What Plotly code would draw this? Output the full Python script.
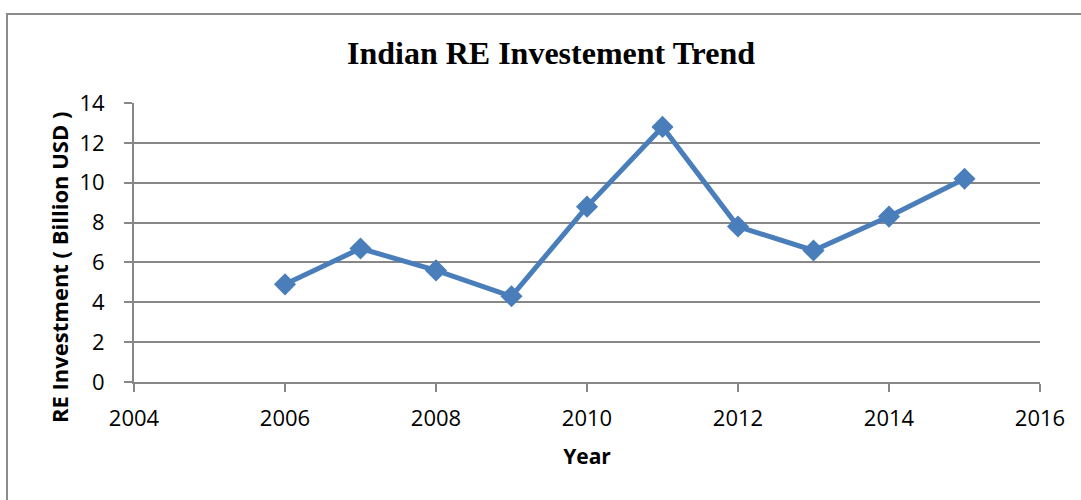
import plotly.graph_objects as go

years = [2006, 2007, 2008, 2009, 2010, 2011, 2012, 2013, 2014, 2015]
investment = [4.9, 6.7, 5.6, 4.3, 8.8, 12.8, 7.8, 6.6, 8.3, 10.2]
x_ticks = [2004, 2006, 2008, 2010, 2012, 2014, 2016]
y_ticks = [0, 2, 4, 6, 8, 10, 12, 14]

W, H = 1081, 500
L, R, T, B = 134, 41, 103, 118
PW, PH = W - L - R, H - T - B

fig = go.Figure()
fig.add_trace(go.Scatter(
    x=years, y=investment, mode="lines+markers",
    line=dict(color="#4A7EBB", width=5),
    marker=dict(symbol="diamond", size=17, color="#4A7EBB"),
    showlegend=False,
))

grid = "#878787"
tickfont = dict(family="Open Sans, Carlito, sans-serif", size=22, color="black")
fig.update_layout(
    width=W, height=H,
    margin=dict(l=L, r=R, t=T, b=B),
    paper_bgcolor="white", plot_bgcolor="white",
    title=dict(text="<b>Indian RE Investement Trend</b>",
               font=dict(family="Liberation Serif, Times New Roman, serif", size=32, color="black"),
               x=551 / W, xanchor="center", y=1 - 53 / H, yanchor="middle"),
    xaxis=dict(range=[2004, 2016], tickvals=x_ticks, ticktext=[str(v) for v in x_ticks],
               showgrid=False, zeroline=False, showline=True, linecolor=grid, linewidth=2,
               ticks="outside", ticklen=8, tickcolor=grid, tickwidth=2,
               ticklabelstandoff=8, tickfont=tickfont,
               title=dict(text="<b>Year</b>", standoff=18,
                          font=dict(family="Open Sans, sans-serif", size=21, color="black"))),
    yaxis=dict(range=[0, 14], tickvals=y_ticks, ticktext=[str(v) for v in y_ticks],
               showgrid=True, gridcolor=grid, gridwidth=2, zeroline=False,
               showline=True, linecolor=grid, linewidth=2,
               ticks="outside", ticklen=8, tickcolor=grid, tickwidth=2,
               ticklabelstandoff=15, tickfont=tickfont),
    annotations=[dict(text="<b>RE Investment ( Billion USD )</b>", textangle=-90,
                      xref="paper", yref="paper", x=(59 - L) / PW, y=(H - B - 268) / PH,
                      xanchor="center", yanchor="middle", showarrow=False,
                      font=dict(family="Open Sans, sans-serif", size=22, color="black"))],
    shapes=[dict(type="rect", xref="paper", yref="paper",
                 x0=(7 - L) / PW, x1=(W + 20 - L) / PW,
                 y0=(B - (H + 20)) / PH, y1=(H - 14 - B) / PH,
                 line=dict(color="#8c8c8c", width=2), layer="below")],
)

fig.write_html("out.html")
